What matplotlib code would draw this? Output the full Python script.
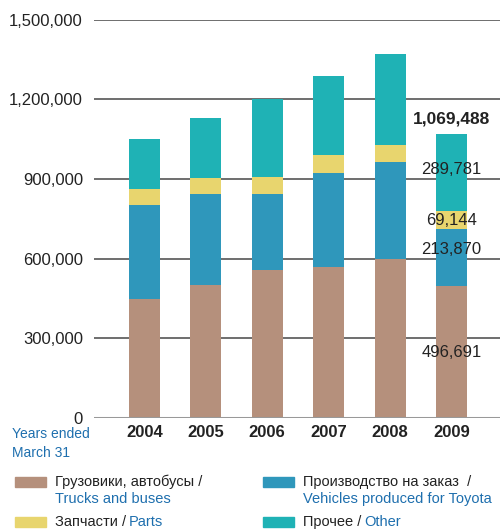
import matplotlib
matplotlib.use("Agg")
import matplotlib.pyplot as plt
from matplotlib.patches import Rectangle

# --- data ---
years = ["2004", "2005", "2006", "2007", "2008", "2009"]
trucks = [448000, 501000, 557000, 569000, 599000, 496691]
vehicles = [354000, 343000, 287000, 354000, 365000, 213870]
parts = [60000, 60000, 64000, 67000, 64000, 69144]
other = [189000, 226000, 292000, 298000, 343000, 289781]
total_2009 = "1,069,488"
yticks = [0, 300000, 600000, 900000, 1200000, 1500000]

colors = ["#B5907C", "#2F97BB", "#E8D56E", "#1FB2B5"]
legend_ru = ["Грузовики, автобусы /", "Производство на заказ  /", "Запчасти /", "Прочее /"]
legend_en = ["Trucks and buses", "Vehicles produced for Toyota", "Parts", "Other"]
BLUE_TXT = "#1E6FAE"

plt.rcParams["font.family"] = ["Liberation Sans", "DejaVu Sans"]

fig = plt.figure(figsize=(5.0, 5.31), dpi=100)
ax = fig.add_axes([0.188, 0.2128, 0.812, 0.7502])

x = list(range(len(years)))
bottom = [0] * len(years)
for vals, c in zip([trucks, vehicles, parts, other], colors):
    ax.bar(x, vals, width=0.505, bottom=bottom, color=c, zorder=3)
    bottom = [b + v for b, v in zip(bottom, vals)]

ax.set_xlim(-0.82, 5.79)
ax.set_ylim(0, 1500000)
ax.set_yticks(yticks)
ax.set_yticklabels([f"{v:,}" for v in yticks], fontsize=12, color="#222222")
ax.set_xticks(x)
ax.set_xticklabels(years, fontsize=12, fontweight="bold", color="#222222")
ax.tick_params(length=0, pad=8)
ax.tick_params(axis="x", pad=5)
for s in ax.spines.values():
    s.set_visible(False)
for v in yticks[1:]:
    ax.axhline(v, color="#555555", lw=1.2, zorder=1)
ax.axhline(0, color="#999999", lw=2.2, zorder=4)

# 2009 labels
i = 5
ax.text(i, bottom[i] + 30000, total_2009, ha="center", va="bottom",
        fontsize=12.5, fontweight="bold", color="#222222", zorder=5)
ax.text(i, 934000, f"{other[i]:,}", ha="center", va="center",
        fontsize=12, color="#222222", zorder=5)
ax.text(i, 745000, f"{parts[i]:,}", ha="center", va="center",
        fontsize=12, color="#222222", zorder=5)
ax.text(i, 636000, f"{vehicles[i]:,}", ha="center", va="center",
        fontsize=12, color="#222222", zorder=5)
ax.text(i, 248000, f"{trucks[i]:,}", ha="center", va="center",
        fontsize=12, color="#222222", zorder=5)

fig.text(12 / 500, 1 - 434 / 531, "Years ended", ha="left", va="center",
         fontsize=10, color=BLUE_TXT)
fig.text(12 / 500, 1 - 453 / 531, "March 31", ha="left", va="center",
         fontsize=10, color=BLUE_TXT)

# legend
pos = [(15, 482), (263, 482), (15, 522), (263, 522)]
for (px, py), c, ru, en in zip(pos, colors, legend_ru, legend_en):
    fig.patches.append(Rectangle((px / 500, 1 - (py + 5) / 531), 31 / 500, 10 / 531,
                                 transform=fig.transFigure, color=c))
    t = fig.text((px + 40) / 500, 1 - py / 531, ru, ha="left", va="center",
                 fontsize=10.5, color="#222222")
    if py == 482:
        fig.text((px + 40) / 500, 1 - 499 / 531, en, ha="left", va="center",
                 fontsize=10.5, color=BLUE_TXT)
    else:
        ax.annotate(en, xy=(1, 0.5), xycoords=t, xytext=(2, 0), textcoords="offset points",
                    ha="left", va="center", fontsize=10.5, color=BLUE_TXT,
                    annotation_clip=False)

fig.savefig("out.png", dpi=100)
